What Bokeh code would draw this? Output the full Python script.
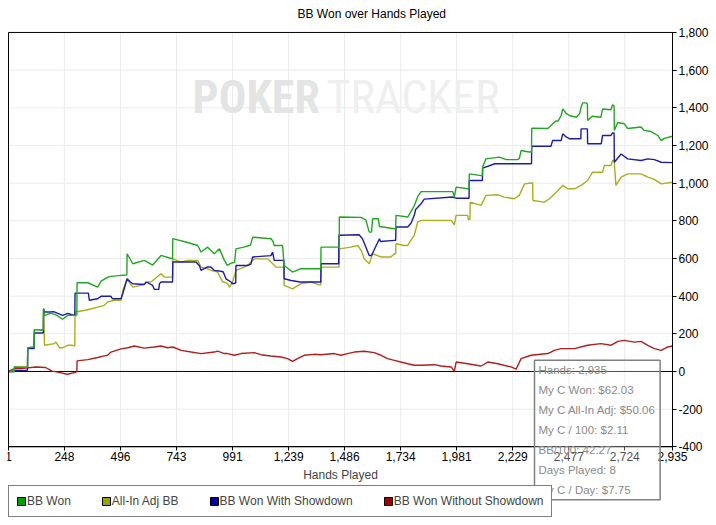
from bokeh.plotting import figure
from bokeh.models import (Range1d, FixedTicker, NumeralTickFormatter, Legend,
                          LegendItem, Label, Title, ColumnDataSource)
from bokeh.embed import file_html
from bokeh.resources import INLINE

# ---------------- data ----------------
title_text = "BB Won over Hands Played"
x_label = "Hands Played"
series_names = ["BB Won", "All-In Adj BB", "BB Won With Showdown", "BB Won Without Showdown"]

x_ticks = [1, 248, 496, 743, 991, 1239, 1486, 1734, 1981, 2229, 2477, 2724, 2935]
y_ticks = [-400, -200, 0, 200, 400, 600, 800, 1000, 1200, 1400, 1600, 1800]

won_hands = [1, 26, 27, 60, 85, 86, 110, 114, 115, 150, 155, 156, 160, 190, 215, 240, 263, 292,
             303, 304, 351, 395, 410, 440, 455, 498, 524, 525, 550, 601, 638, 675, 720, 726, 727,
             793, 837, 852, 881, 910, 933, 955, 968, 984, 1000, 1006, 1040, 1070, 1080, 1161,
             1170, 1175, 1212, 1219, 1256, 1290, 1374, 1381, 1382, 1455, 1462, 1463, 1559, 1580,
             1595, 1605, 1610, 1635, 1640, 1706, 1712, 1713, 1765, 1780, 1794, 1809, 1824, 1942,
             1964, 1971, 1979, 2030, 2036, 2037, 2060, 2089, 2095, 2096, 2111, 2170, 2200, 2250,
             2258, 2266, 2302, 2312, 2313, 2384, 2398, 2420, 2430, 2443, 2450, 2465, 2479, 2510,
             2525, 2531, 2538, 2553, 2559, 2560, 2580, 2619, 2626, 2663, 2670, 2677, 2678, 2693,
             2722, 2737, 2796, 2810, 2840, 2870, 2885, 2899, 2935]
won_values = [0, 0, 24, 22, 24, 126, 130, 128, 222, 218, 222, 333, 298, 310, 298, 277, 298, 298,
              300, 471, 471, 448, 480, 501, 505, 510, 512, 625, 572, 590, 565, 616, 600, 600, 705,
              685, 669, 634, 660, 625, 651, 590, 563, 575, 580, 651, 660, 670, 713, 705,
              690, 669, 669, 563, 528, 545, 545, 545, 660, 660, 660, 820, 818, 805,
              740, 740, 811, 811, 770, 758, 758, 829, 820, 850, 880, 928, 955, 955,
              955, 926, 979, 970, 970, 1049, 1045, 1040, 1040, 1085, 1129, 1138, 1125, 1125,
              1130, 1173, 1165, 1165, 1292, 1290, 1306, 1330, 1330, 1359, 1394, 1370, 1359, 1350,
              1370, 1403, 1426, 1426, 1420, 1333, 1355, 1350, 1394, 1390, 1416, 1410, 1279, 1322,
              1315, 1290, 1298, 1280, 1274, 1253, 1226, 1238, 1249]

adj_hands = [1, 26, 27, 85, 86, 114, 115, 155, 156, 160, 204, 211, 226, 241, 263, 285, 294, 295,
             340, 369, 395, 424, 439, 468, 498, 506, 525, 550, 587, 616, 630, 675, 690, 720, 726,
             727, 764, 793, 837, 852, 881, 896, 925, 947, 955, 969, 977, 991, 1006, 1043, 1065,
             1087, 1146, 1161, 1183, 1212, 1218, 1219, 1256, 1293, 1337, 1374, 1381, 1382, 1455,
             1462, 1463, 1514, 1544, 1559, 1573, 1595, 1610, 1647, 1691, 1706, 1712, 1713, 1750,
             1765, 1779, 1794, 1809, 1824, 1942, 1957, 1971, 1979, 2030, 2033, 2040, 2041, 2089,
             2111, 2163, 2192, 2236, 2258, 2281, 2310, 2317, 2318, 2369, 2391, 2421, 2450, 2472,
             2502, 2531, 2560, 2582, 2626, 2634, 2663, 2670, 2677, 2685, 2708, 2737, 2796, 2826,
             2855, 2885, 2935]
adj_values = [0, 0, 24, 24, 126, 126, 222, 222, 333, 139, 148, 156, 126, 126, 139, 139, 135, 316,
              325, 333, 342, 351, 369, 378, 378, 431, 489, 448, 457, 475, 475, 519, 501, 501, 501,
              598, 581, 590, 590, 554, 545, 537, 528, 475, 475, 466, 448, 475, 537, 554, 572,
              598, 598, 581, 554, 554, 554, 457, 439, 466, 475, 460, 460, 554, 554,
              554, 651, 660, 669, 643, 598, 572, 625, 608, 608, 625, 625, 678, 669,
              669, 696, 723, 793, 802, 802, 802, 779, 829, 829, 806, 806, 899, 882,
              935, 938, 926, 917, 935, 996, 1001, 1001, 908, 899, 917, 952, 988, 970,
              970, 988, 1014, 1058, 1058, 1094, 1094, 1120, 1120, 988, 1032, 1049, 1049, 1032,
              1020, 996, 1005]

sd_hands = [1, 26, 27, 85, 86, 114, 115, 155, 156, 160, 185, 200, 240, 263, 292, 294, 295, 354,
            358, 395, 410, 454, 460, 498, 506, 525, 540, 550, 600, 610, 638, 645, 665, 668, 675,
            726, 727, 830, 845, 852, 880, 895, 910, 940, 950, 962, 984, 991, 1005, 1006, 1060,
            1072, 1080, 1161, 1168, 1172, 1175, 1212, 1218, 1219, 1250, 1290, 1374, 1381, 1382,
            1455, 1460, 1461, 1550, 1565, 1595, 1605, 1640, 1645, 1706, 1712, 1713, 1765, 1780,
            1794, 1800, 1824, 1838, 1964, 1979, 2036, 2037, 2089, 2095, 2096, 2150, 2312, 2313,
            2398, 2405, 2443, 2450, 2465, 2479, 2530, 2531, 2553, 2559, 2560, 2620, 2626, 2663,
            2670, 2677, 2678, 2708, 2737, 2796, 2826, 2855, 2885, 2935]
sd_values = [0, 0, 6, 6, 121, 121, 204, 204, 333, 316, 316, 318, 298, 308, 298, 300, 416, 416,
             378, 386, 399, 399, 386, 386, 413, 492, 475, 466, 462, 475, 457, 436, 436, 466, 475,
             475, 581, 581, 560, 537, 555, 555, 537, 532, 528, 492, 475, 466, 470, 563, 563,
             570, 608, 615, 634, 610, 590, 590, 590, 492, 483, 475, 475, 475, 572,
             572, 572, 723, 726, 705, 616, 616, 705, 690, 696, 696, 767, 767, 788,
             829, 860, 890, 915, 926, 920, 920, 1014, 1014, 1014, 1080, 1103, 1103, 1196,
             1196, 1226, 1226, 1262, 1245, 1236, 1236, 1288, 1288, 1288, 1209, 1209, 1253, 1253,
             1267, 1267, 1111, 1155, 1129, 1120, 1129, 1125, 1111, 1109]

nosd_hands = [1, 27, 56, 121, 165, 194, 224, 261, 297, 303, 304, 351, 395, 424, 439, 454, 498,
              528, 557, 601, 645, 675, 704, 727, 764, 808, 852, 910, 925, 955, 969, 999, 1028,
              1087, 1116, 1161, 1205, 1234, 1256, 1278, 1307, 1352, 1382, 1440, 1470, 1499, 1529,
              1573, 1617, 1647, 1676, 1706, 1735, 1765, 1794, 1824, 1883, 1912, 1957, 1971, 1979,
              2030, 2089, 2119, 2163, 2222, 2244, 2266, 2310, 2384, 2413, 2443, 2502, 2560, 2619,
              2663, 2693, 2722, 2767, 2796, 2826, 2855, 2885, 2914, 2935]
nosd_values = [0, 15, 15, 24, 21, 2, -5, -15, -5, 0, 56, 63, 74, 83, 86, 103, 120,
               126, 135, 124, 130, 135, 126, 130, 112, 103, 95, 103, 108, 95, 95, 86, 95,
               100, 89, 82, 77, 68, 54, 68, 86, 91, 89, 95, 86, 95, 103,
               107, 100, 86, 68, 59, 50, 41, 33, 33, 36, 29, 24, 1, 50,
               41, 29, 50, 41, 24, 12, 68, 86, 95, 112, 121, 121, 139, 148,
               139, 160, 165, 156, 160, 139, 121, 112, 130, 135]

line_colors = ["#22a622", "#adad1c", "#1c1caa", "#b01e1e"]
swatch_colors = ["#00a000", "#a0a000", "#0000a0", "#a00000"]

tip_lines = ["Hands: 2,935", "My C Won: $62.03", "My C All-In Adj: $50.06", "My C / 100: $2.11",
             "BB/100: 42.27", "Days Played: 8", "My C / Day: $7.75"]
watermark = ["POKER", "TRACKER"]

FONT = "Liberation Sans"
X0, X1 = 1, 2935
Y0, Y1 = -400, 1800
NAN = float("nan")

# ---------------- layout (pixels) ----------------
W, H = 716, 525
FL, FR, FT, FB = 7, 716, 22, 519          # frame edges on the canvas
PX_X0, PX_X1, PX_Y1, PX_Y0 = 8, 672, 30, 446   # where X0, X1, Y1 and Y0 fall
kx = (X1 - X0) / (PX_X1 - PX_X0)
ky = (Y1 - Y0) / (PX_Y0 - PX_Y1)
xs, xe = X0 - (PX_X0 - FL) * kx, X1 + (FR - PX_X1) * kx
ye, ys = Y1 + (PX_Y1 - FT) * ky, Y0 - (FB - PX_Y0) * ky


def px_x(px):
    return xs + (px - FL) * kx


def px_y(py):
    return ye - (py - FT) * ky


p = figure(width=W, height=H, x_range=Range1d(xs, xe), y_range=Range1d(ys, ye),
           output_backend="svg", toolbar_location=None, y_axis_location="right",
           min_border_left=FL, min_border_right=W - FR, min_border_top=FT,
           min_border_bottom=H - FB)

p.add_layout(Title(text=title_text, align="left", offset=297 - FL, text_font=FONT,
                   text_font_size="12px", text_font_style="normal", text_color="black",
                   standoff=8), "above")

p.background_fill_color = "white"
p.border_fill_color = "white"
p.outline_line_color = None

for ax in (p.xaxis[0], p.yaxis[0]):
    ax.axis_line_color = "black"
    ax.major_tick_line_color = "black"
    ax.major_tick_out = 4
    ax.major_tick_in = 0
    ax.minor_tick_line_color = None
    ax.major_label_text_font = FONT
    ax.major_label_text_font_size = "12px"
    ax.major_label_text_color = "black"
    ax.formatter = NumeralTickFormatter(format="0,0")

p.xaxis.ticker = FixedTicker(ticks=x_ticks)
p.yaxis.ticker = FixedTicker(ticks=y_ticks)
p.xaxis.fixed_location = Y0
p.yaxis.fixed_location = X1
p.xaxis.bounds = (X0, X1)
p.yaxis.bounds = (Y0, Y1)
p.xaxis.major_label_standoff = 1
p.yaxis.major_label_standoff = 2
p.xaxis.axis_label = x_label
p.xaxis.axis_label_text_font = FONT
p.xaxis.axis_label_text_font_size = "12px"
p.xaxis.axis_label_text_font_style = "normal"
p.xaxis.axis_label_standoff = 4

# grid lines limited to the plot area
p.grid.visible = False
p.segment(x0=x_ticks, y0=[Y0] * len(x_ticks), x1=x_ticks, y1=[Y1] * len(x_ticks),
          line_color="#ebebeb", line_width=1, level="underlay")
p.segment(x0=[X0] * len(y_ticks), y0=y_ticks, x1=[X1] * len(y_ticks), y1=y_ticks,
          line_color="#ebebeb", line_width=1, level="underlay")

# watermark
wm_font = "'Liberation Sans Narrow', 'Roboto Condensed', 'Liberation Sans'"
p.add_layout(Label(x=px_x(192), y=px_y(95), text=watermark[0], text_font=wm_font,
                   text_font_size="46px", text_font_style="bold", text_color="#e4e4e4",
                   text_baseline="alphabetic", text_align="left", level="underlay"))
p.add_layout(Label(x=px_x(326), y=px_y(95), text=watermark[1], text_font=wm_font,
                   text_font_size="46px", text_font_style="normal", text_color="#efefef",
                   text_baseline="alphabetic", text_align="left", level="underlay"))

# zero line
p.segment(x0=[X0], y0=[0], x1=[X1], y1=[0], line_color="black", line_width=1)

series = [(nosd_hands, nosd_values, 3), (adj_hands, adj_values, 1),
          (sd_hands, sd_values, 2), (won_hands, won_values, 0)]
for hx, hy, ci in series:
    src = ColumnDataSource(data=dict(hand=hx, bb=hy))
    p.line("hand", "bb", source=src, line_color=line_colors[ci], line_width=1.4)

# plot-area border
p.quad(left=[X0], right=[X1], bottom=[Y0], top=[Y1], fill_color=None,
       line_color="black", line_width=1)

items = []
for name, col in zip(series_names, swatch_colors):
    r = p.quad(left=[NAN], right=[NAN], top=[NAN], bottom=[NAN], fill_color=col,
               line_color="black", line_width=1)
    items.append(LegendItem(label=name, renderers=[r]))

legend = Legend(items=items, orientation="horizontal", location=(1, 2), margin=0,
                padding=7, spacing=30, glyph_width=10, glyph_height=10, label_standoff=1,
                label_height=16, label_text_font=FONT, label_text_font_size="12px",
                border_line_color="black", border_line_width=1, background_fill_color="white",
                background_fill_alpha=1)
p.add_layout(legend)

p.add_layout(Label(x=px_x(534), y=px_y(359), text="\n".join(tip_lines), text_font=FONT,
                   text_font_size="11.5px", text_color="#8a8a8a", text_line_height=1.66,
                   text_align="left", text_baseline="top", padding=4,
                   background_fill_color="white", background_fill_alpha=0.3,
                   border_line_color="#808080", border_line_width=1.5, level="overlay"))

open("out.html", "w").write(file_html(p, INLINE))
